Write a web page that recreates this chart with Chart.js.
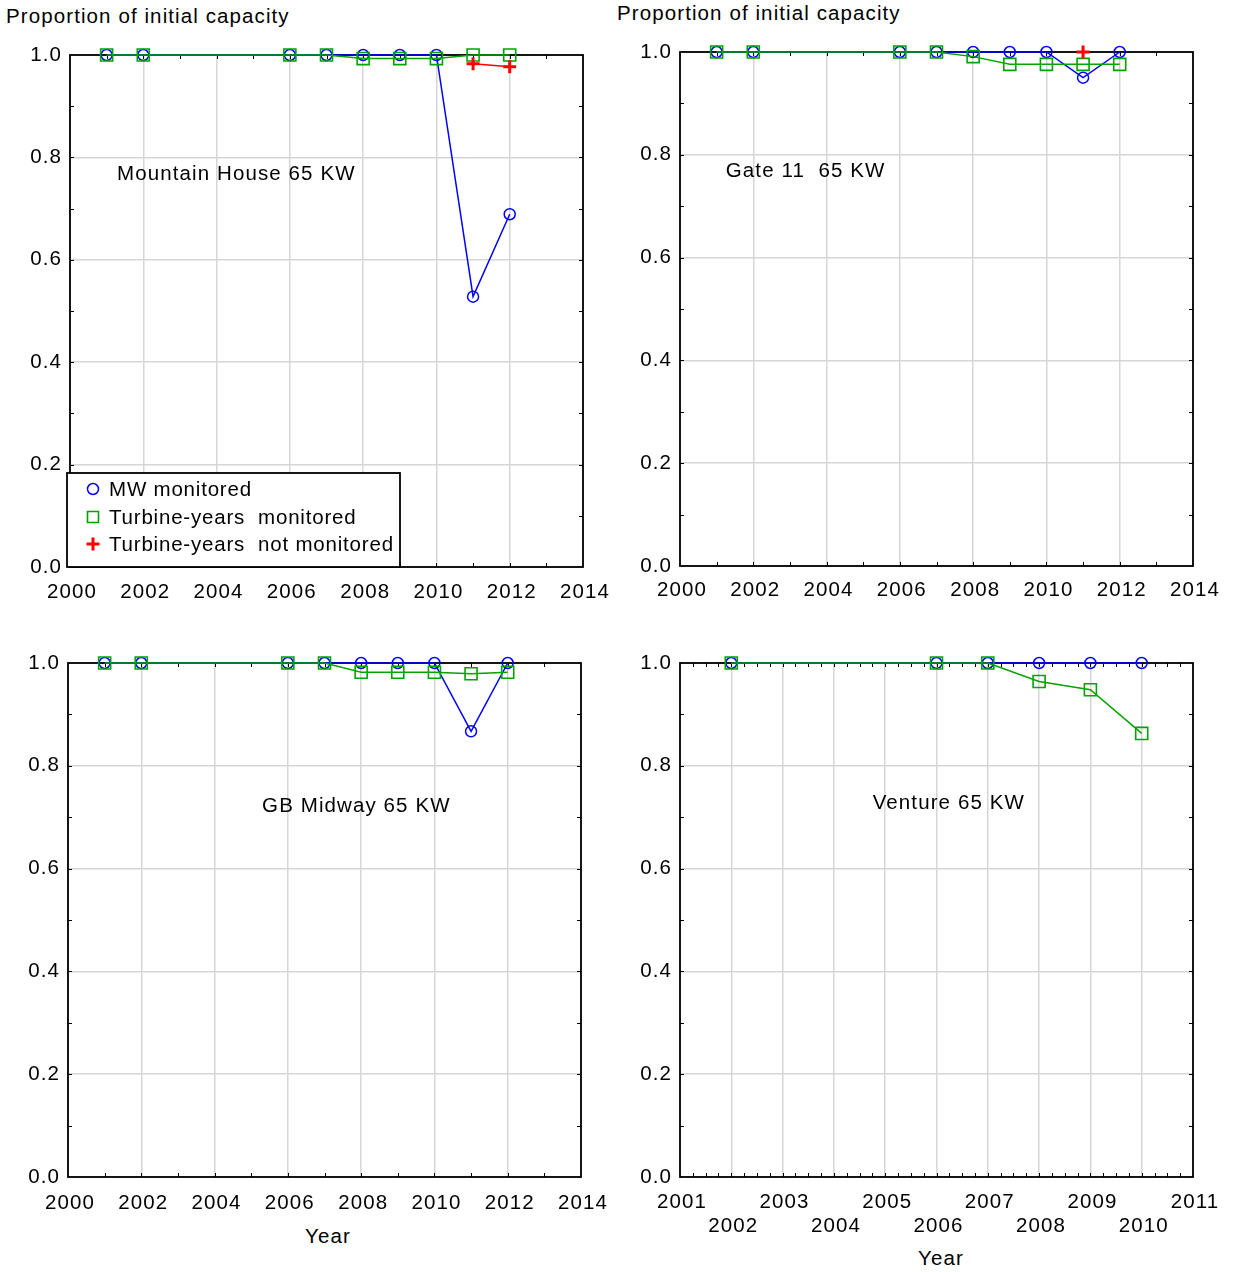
<!DOCTYPE html>
<html>
<head>
<meta charset="utf-8">
<script src="https://cdn.jsdelivr.net/npm/chart.js"></script>
<style>
  html, body { margin: 0; padding: 0; background: #fff; }
  body { width: 1233px; height: 1272px; position: relative; overflow: hidden; }
  canvas { position: absolute; }
  .txt { position: absolute; font-family: 'Liberation Sans', Arial, sans-serif; font-size: 20.5px; line-height: 20.5px; letter-spacing: 1.1px; color: #000; white-space: pre; }
</style>
</head>
<body>
<div class="txt" style="left:6px; top:6px;">Proportion of initial capacity</div>
<div class="txt" style="left:617px; top:3px;">Proportion of initial capacity</div>
<div class="txt" style="left:305px; top:1226px;">Year</div>
<div class="txt" style="left:918px; top:1248px;">Year</div>

<canvas id="cTL" width="616" height="612" style="left:0px; top:0px;"></canvas>
<canvas id="cTR" width="617" height="612" style="left:616px; top:0px;"></canvas>
<canvas id="cBL" width="616" height="660" style="left:0px; top:612px;"></canvas>
<canvas id="cBR" width="617" height="660" style="left:616px; top:612px;"></canvas>

<script>
// ---------------- DATA ----------------
const seriesLabels = ['MW monitored', 'Turbine-years  monitored', 'Turbine-years  not monitored'];

// Mountain House 65 KW
const mhYears      = [2001, 2002, 2006, 2007, 2008, 2009, 2010, 2011, 2012];
const mhMW         = [1, 1, 1, 1, 1, 1, 1, 0.528, 0.689];
const mhTurbMon    = [1, 1, 1, 1, 0.993, 0.993, 0.993, 1, 1];
const mhNotMonYears = [2011, 2012];
const mhNotMon     = [0.983, 0.977];

// Gate 11 65 KW
const g11Years     = [2001, 2002, 2006, 2007, 2008, 2009, 2010, 2011, 2012];
const g11MW        = [1, 1, 1, 1, 1, 1, 1, 0.950, 1];
const g11TurbMon   = [1, 1, 1, 1, 0.991, 0.976, 0.976, 0.976, 0.976];
const g11NotMonYears = [2011];
const g11NotMon    = [1.0];

// GB Midway 65 KW
const gbYears      = [2001, 2002, 2006, 2007, 2008, 2009, 2010, 2011, 2012];
const gbMW         = [1, 1, 1, 1, 1, 1, 1, 0.867, 1];
const gbTurbMon    = [1, 1, 1, 1, 0.982, 0.982, 0.982, 0.979, 0.982];

// Venture 65 KW
const vYears       = [2002, 2006, 2007, 2008, 2009, 2010];
const vMW          = [1, 1, 1, 1, 1, 1];
const vTurbMon     = [1, 1, 1, 0.964, 0.948, 0.863];

// Axis tick settings
const yTicks = [0, 0.2, 0.4, 0.6, 0.8, 1.0];
const xRangeWide  = [2000, 2014];
const xRangeVenture = [2001, 2011];

// ---------------- STYLE ----------------
const FONT = "'Liberation Sans', Arial, sans-serif";
const FS = 20.5;
const LS = '1.1px';
const BLUE = '#0000ff', GREEN = '#00a400', RED = '#ff0000';

function pts(xs, ys) { return xs.map((x, i) => ({ x: x, y: ys[i] })); }

function dsMW(xs, ys) {
  return { label: seriesLabels[0], data: pts(xs, ys), showLine: true, borderColor: BLUE, borderWidth: 1.5,
    pointStyle: 'circle', pointRadius: 5.5, pointBorderColor: BLUE, pointBorderWidth: 1.5,
    pointBackgroundColor: 'rgba(0,0,0,0)', backgroundColor: 'rgba(0,0,0,0)', clip: false, order: 2, tension: 0 };
}
function dsTM(xs, ys) {
  return { label: seriesLabels[1], data: pts(xs, ys), showLine: true, borderColor: GREEN, borderWidth: 1.5,
    pointStyle: 'rect', pointRadius: 8.5, pointBorderColor: GREEN, pointBorderWidth: 1.6,
    pointBackgroundColor: 'rgba(0,0,0,0)', backgroundColor: 'rgba(0,0,0,0)', clip: false, order: 1, tension: 0 };
}
function dsNM(xs, ys) {
  return { label: seriesLabels[2], data: pts(xs, ys), showLine: true, borderColor: RED, borderWidth: 1.5,
    pointStyle: 'cross', pointRadius: 6.5, pointBorderColor: RED, pointBorderWidth: 3,
    pointBackgroundColor: RED, backgroundColor: 'rgba(0,0,0,0)', clip: false, order: 0, tension: 0 };
}

const framePlugin = {
  id: 'frameTicks',
  beforeDraw(chart) { chart.ctx.letterSpacing = LS; },
  beforeDatasetsDraw(chart, args, opts) {
    const ctx = chart.ctx, a = chart.chartArea;
    const xs = chart.scales.x, ys = chart.scales.y;
    ctx.save();
    ctx.strokeStyle = '#000';
    ctx.lineWidth = 1;
    ctx.beginPath();
    const xmin = xs.min, xmax = xs.max;
    const nx = Math.round((xmax - xmin) / opts.xMinor);
    for (let i = 1; i < nx; i++) {
      const p = Math.round(xs.getPixelForValue(xmin + i * opts.xMinor)) + 0.5;
      ctx.moveTo(p, a.bottom); ctx.lineTo(p, a.bottom - 4);
      ctx.moveTo(p, a.top); ctx.lineTo(p, a.top + 4);
    }
    for (let i = 1; i < 10; i++) {
      const p = Math.round(ys.getPixelForValue(i * 0.1)) + 0.5;
      ctx.moveTo(a.left, p); ctx.lineTo(a.left + 4, p);
      ctx.moveTo(a.right, p); ctx.lineTo(a.right - 4, p);
    }
    ctx.stroke();
    ctx.lineWidth = 1.8;
    ctx.strokeRect(a.left, a.top, a.right - a.left, a.bottom - a.top);
    ctx.restore();
  },
  afterDatasetsDraw(chart, args, opts) {
    const ctx = chart.ctx, a = chart.chartArea;
    const xs = chart.scales.x, ys = chart.scales.y;
    ctx.save();
    ctx.letterSpacing = LS;
    ctx.font = FS + 'px ' + FONT;
    ctx.fillStyle = '#000';
    ctx.textAlign = 'center';
    ctx.textBaseline = 'middle';
    if (opts.label) {
      ctx.fillText(opts.label.text, xs.getPixelForValue(opts.label.x), ys.getPixelForValue(opts.label.y));
    }
    if (opts.legend) {
      const L = a.left - 3, B = a.bottom, W = 333, H = 94, T = B - H;
      ctx.fillStyle = '#fff';
      ctx.fillRect(L, T, W, H);
      ctx.strokeStyle = '#000';
      ctx.lineWidth = 1.8;
      ctx.strokeRect(L, T, W, H);
      const rows = [T + 16, T + 44, T + 71];
      const mx = L + 26, tx = L + 42;
      ctx.letterSpacing = '0.8px';
      chart.data.datasets.forEach((d, i) => {
        const y = rows[i];
        ctx.strokeStyle = d.pointBorderColor;
        ctx.lineWidth = d.pointBorderWidth;
        ctx.beginPath();
        if (d.pointStyle === 'circle') { ctx.arc(mx, y, 5.5, 0, Math.PI * 2); }
        else if (d.pointStyle === 'rect') { ctx.rect(mx - 5.5, y - 5.5, 11, 11); }
        else { ctx.moveTo(mx - 6.5, y); ctx.lineTo(mx + 6.5, y); ctx.moveTo(mx, y - 6.5); ctx.lineTo(mx, y + 6.5); }
        ctx.stroke();
        ctx.fillStyle = '#000';
        ctx.textAlign = 'left';
        ctx.fillText(d.label, tx, y + 1);
      });
    }
    ctx.restore();
  }
};

function makeChart(id, canvasBox, area, cfg) {
  const yW = area.l - canvasBox.left;
  const padTop = area.t - canvasBox.top;
  const padRight = canvasBox.left + canvasBox.w - area.r;
  const xH = canvasBox.top + canvasBox.h - area.b;
  return new Chart(document.getElementById(id), {
    type: 'scatter',
    data: { datasets: cfg.datasets },
    options: {
      responsive: false, animation: false, events: [],
      layout: { padding: { left: 0, top: padTop, right: padRight, bottom: 0 } },
      plugins: {
        legend: { display: false }, tooltip: { enabled: false }, title: { display: false },
        frameTicks: { xMinor: cfg.xMinor, label: cfg.label, legend: cfg.legend }
      },
      scales: {
        x: {
          type: 'linear', min: cfg.xRange[0], max: cfg.xRange[1],
          afterFit(s) { s.height = xH; s.paddingLeft = 0; s.paddingRight = 0; },
          afterBuildTicks(s) {
            const t = [];
            for (let v = cfg.xRange[0]; v <= cfg.xRange[1] + 1e-9; v += cfg.xStep) t.push({ value: v });
            s.ticks = t;
          },
          border: { display: false },
          grid: { color: '#d6d6d6', lineWidth: 1.5, drawTicks: false },
          ticks: {
            autoSkip: false, maxRotation: 0, minRotation: 0, padding: cfg.xPad, labelOffset: 2,
            color: '#000', font: { family: FONT, size: FS, lineHeight: 1.17 },
            callback: cfg.xTickCb || (v => String(v))
          }
        },
        y: {
          type: 'linear', min: 0, max: 1,
          afterFit(s) { s.width = yW; s.paddingTop = 0; s.paddingBottom = 0; },
          afterBuildTicks(s) { s.ticks = yTicks.map(v => ({ value: v })); },
          border: { display: false },
          grid: { color: '#d6d6d6', lineWidth: 1.5, drawTicks: false },
          ticks: { padding: 8, color: '#000', font: { family: FONT, size: FS }, callback: v => Number(v).toFixed(1) }
        }
      }
    },
    plugins: [framePlugin]
  });
}

makeChart('cTL', { left: 0, top: 0, w: 616, h: 612 }, { l: 70, t: 55, r: 583, b: 567 }, {
  datasets: [dsMW(mhYears, mhMW), dsTM(mhYears, mhTurbMon), dsNM(mhNotMonYears, mhNotMon)],
  xRange: xRangeWide, xStep: 2, xMinor: 1, xPad: 13,
  label: { text: 'Mountain House 65 KW', x: 2004.54, y: 0.766 },
  legend: true
});

makeChart('cTR', { left: 616, top: 0, w: 617, h: 612 }, { l: 680, t: 52, r: 1193, b: 566 }, {
  datasets: [dsMW(g11Years, g11MW), dsTM(g11Years, g11TurbMon), dsNM(g11NotMonYears, g11NotMon)],
  xRange: xRangeWide, xStep: 2, xMinor: 1, xPad: 12,
  label: { text: 'Gate 11  65 KW', x: 2003.43, y: 0.767 }
});

makeChart('cBL', { left: 0, top: 612, w: 616, h: 660 }, { l: 68, t: 663, r: 581, b: 1177 }, {
  datasets: [dsMW(gbYears, gbMW), dsTM(gbYears, gbTurbMon)],
  xRange: xRangeWide, xStep: 2, xMinor: 1, xPad: 14,
  label: { text: 'GB Midway 65 KW', x: 2007.87, y: 0.722 }
});

makeChart('cBR', { left: 616, top: 612, w: 617, h: 660 }, { l: 680, t: 663, r: 1193, b: 1177 }, {
  datasets: [dsMW(vYears, vMW), dsTM(vYears, vTurbMon)],
  xRange: xRangeVenture, xStep: 1, xMinor: 0.25, xPad: 13,
  xTickCb: v => (Math.round(v) % 2 === 0 ? ['', String(v)] : [String(v)]),
  label: { text: 'Venture 65 KW', x: 2006.24, y: 0.726 }
});
</script>
</body>
</html>
